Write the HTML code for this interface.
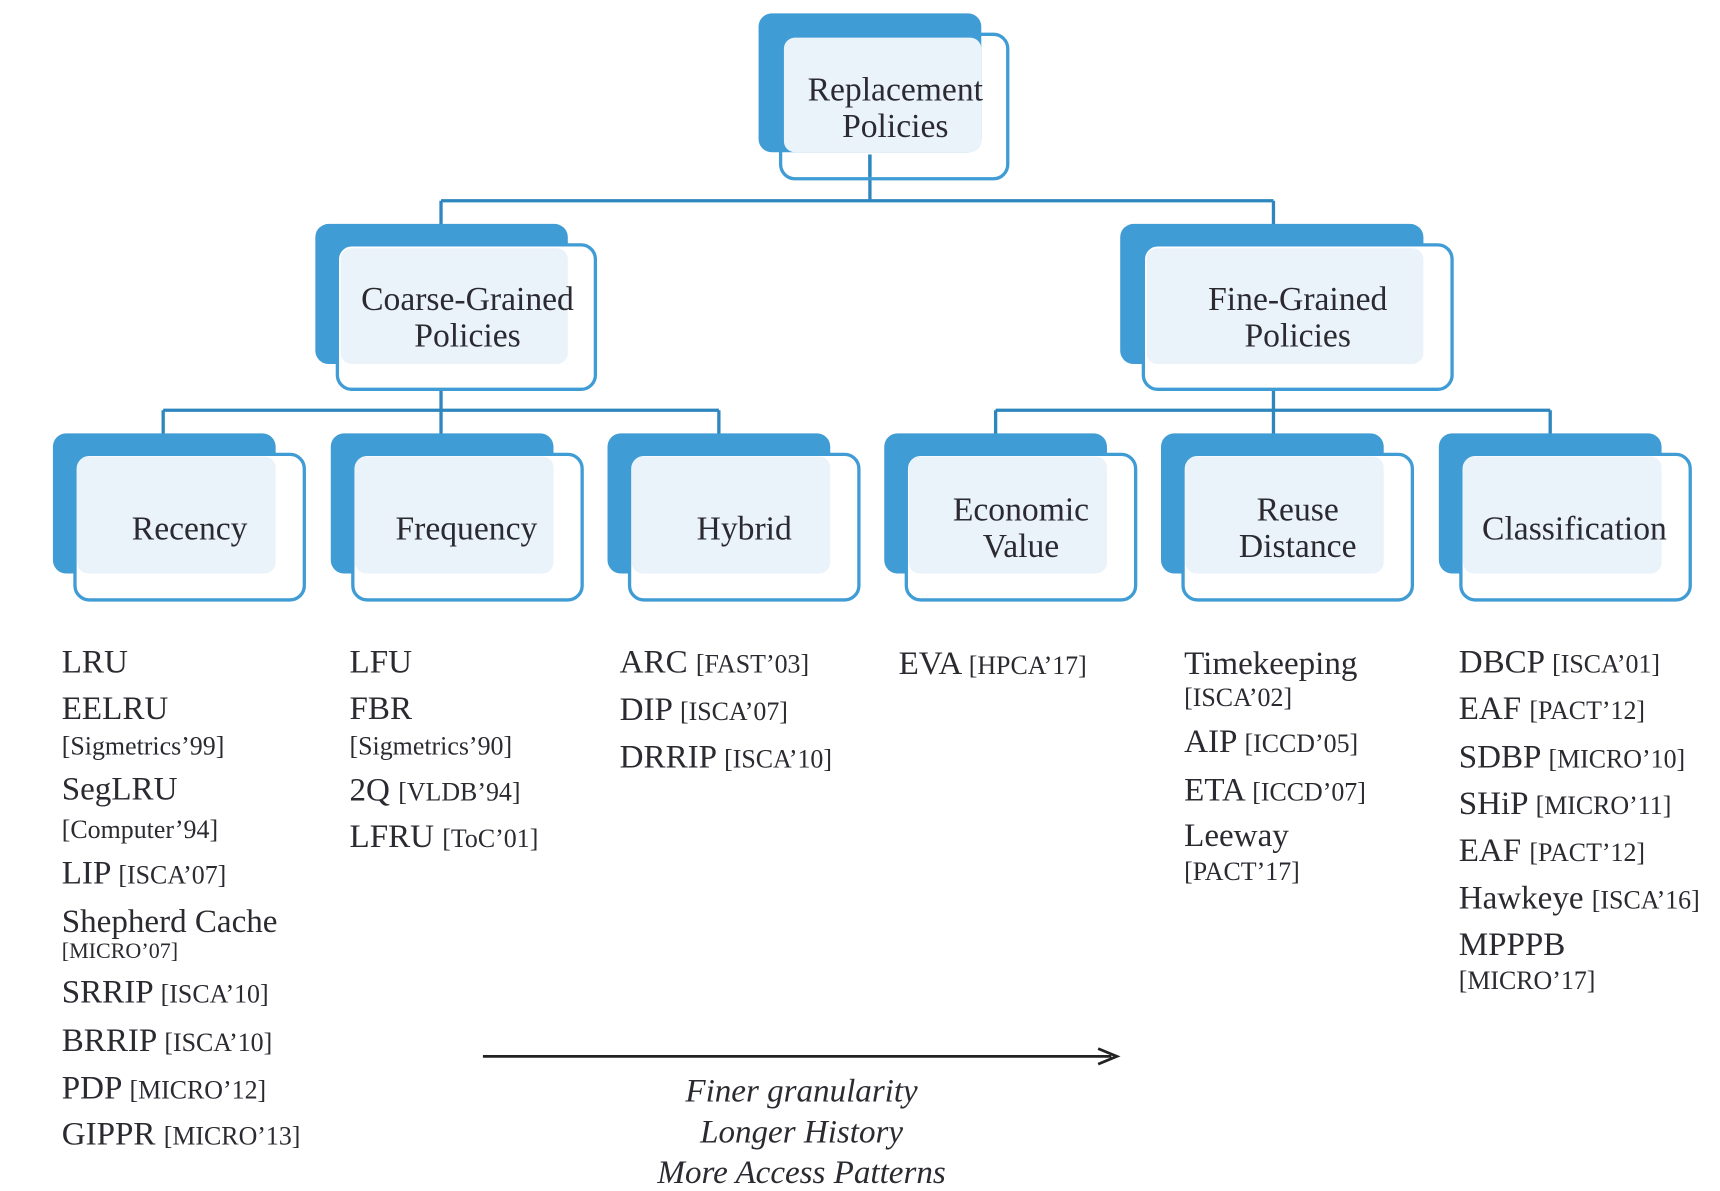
<!DOCTYPE html>
<html><head><meta charset="utf-8"><style>
html,body{margin:0;padding:0;background:#fff;width:1720px;height:1191px;overflow:hidden}
svg text{font-family:"Liberation Serif","Times New Roman",serif;fill:#2a2a30}
.n{font-size:30px}.s{font-size:23.5px}.xs{font-size:20px}
.b{font-size:30.5px}
</style></head><body>
<svg width="1720" height="1191" viewBox="0 0 1560 1080" xmlns="http://www.w3.org/2000/svg">
<defs>
<g id="leaf">
<rect x="0" y="0" width="202" height="127" rx="12" fill="#409cd4"/>
<rect x="20" y="19" width="208" height="132" rx="13" fill="#fff" stroke="#409cd4" stroke-width="3"/>
<rect x="22" y="21" width="180" height="106" rx="10" fill="#eaf2fa"/>
</g>
</defs>
<g stroke="#2e86bf" stroke-width="3" fill="none">
<path d="M789 140V182M400 182H1155M400 182V205M1155 182V205"/>
<path d="M400 332V372M148 372H652M148 372V395M400 372V395M652 372V395"/>
<path d="M1155 332V372M903 372H1406M903 372V395M1155 372V395M1406 372V395"/>
</g>
<rect x="688" y="12" width="202" height="126" rx="12" fill="#409cd4"/>
<rect x="708" y="31" width="206" height="131" rx="13" fill="none" stroke="#409cd4" stroke-width="3"/>
<rect x="711" y="34" width="179" height="104" rx="10" fill="#eaf2fa"/>
<line x1="789" y1="140" x2="789" y2="160" stroke="#2e86bf" stroke-width="3"/>
<text class="b" x="812" y="91" text-anchor="middle">Replacement</text>
<text class="b" x="812" y="124" text-anchor="middle">Policies</text>
<rect x="286" y="203" width="229" height="127" rx="12" fill="#409cd4"/>
<rect x="306" y="222" width="234" height="131" rx="13" fill="#fff" stroke="#409cd4" stroke-width="3"/>
<rect x="309" y="225" width="206" height="105" rx="10" fill="#eaf2fa"/>
<text class="b" x="424" y="281" text-anchor="middle">Coarse-Grained</text>
<text class="b" x="424" y="314" text-anchor="middle">Policies</text>
<rect x="1016" y="203" width="275" height="127" rx="12" fill="#409cd4"/>
<rect x="1037" y="222" width="280" height="131" rx="13" fill="#fff" stroke="#409cd4" stroke-width="3"/>
<rect x="1040" y="225" width="251" height="105" rx="10" fill="#eaf2fa"/>
<text class="b" x="1177" y="281" text-anchor="middle">Fine-Grained</text>
<text class="b" x="1177" y="314" text-anchor="middle">Policies</text>
<use href="#leaf" x="48" y="393"/>
<use href="#leaf" x="300" y="393"/>
<use href="#leaf" x="551" y="393"/>
<use href="#leaf" x="802" y="393"/>
<use href="#leaf" x="1053" y="393"/>
<use href="#leaf" x="1305" y="393"/>
<text class="b" x="172" y="489" text-anchor="middle">Recency</text>
<text class="b" x="423" y="489" text-anchor="middle">Frequency</text>
<text class="b" x="675" y="489" text-anchor="middle">Hybrid</text>
<text class="b" x="926" y="472" text-anchor="middle">Economic</text>
<text class="b" x="926" y="505" text-anchor="middle">Value</text>
<text class="b" x="1177" y="472" text-anchor="middle">Reuse</text>
<text class="b" x="1177" y="505" text-anchor="middle">Distance</text>
<text class="b" x="1428" y="489" text-anchor="middle">Classification</text>
<g>
<text class="n" x="56" y="610">LRU</text>
<text class="n" x="56" y="652">EELRU</text>
<text class="s" x="56" y="684">[Sigmetrics’99]</text>
<text class="n" x="56" y="725">SegLRU</text>
<text class="s" x="56" y="760">[Computer’94]</text>
<text class="n" x="56" y="801">LIP <tspan class="s">[ISCA’07]</tspan></text>
<text class="n" x="56" y="845">Shepherd Cache</text>
<text class="xs" x="56" y="869">[MICRO’07]</text>
<text class="n" x="56" y="909">SRRIP <tspan class="s">[ISCA’10]</tspan></text>
<text class="n" x="56" y="953">BRRIP <tspan class="s">[ISCA’10]</tspan></text>
<text class="n" x="56" y="996">PDP <tspan class="s">[MICRO’12]</tspan></text>
<text class="n" x="56" y="1038">GIPPR <tspan class="s">[MICRO’13]</tspan></text>
<text class="n" x="317" y="610">LFU</text>
<text class="n" x="317" y="652">FBR</text>
<text class="s" x="317" y="684">[Sigmetrics’90]</text>
<text class="n" x="317" y="726">2Q <tspan class="s">[VLDB’94]</tspan></text>
<text class="n" x="317" y="768">LFRU <tspan class="s">[ToC’01]</tspan></text>
<text class="n" x="562" y="610">ARC <tspan class="s">[FAST’03]</tspan></text>
<text class="n" x="562" y="653">DIP <tspan class="s">[ISCA’07]</tspan></text>
<text class="n" x="562" y="696">DRRIP <tspan class="s">[ISCA’10]</tspan></text>
<text class="n" x="815" y="611">EVA <tspan class="s">[HPCA’17]</tspan></text>
<text class="n" x="1074" y="611">Timekeeping</text>
<text class="s" x="1074" y="640">[ISCA’02]</text>
<text class="n" x="1074" y="682">AIP <tspan class="s">[ICCD’05]</tspan></text>
<text class="n" x="1074" y="726">ETA <tspan class="s">[ICCD’07]</tspan></text>
<text class="n" x="1074" y="767">Leeway</text>
<text class="s" x="1074" y="798">[PACT’17]</text>
<text class="n" x="1323" y="610">DBCP <tspan class="s">[ISCA’01]</tspan></text>
<text class="n" x="1323" y="652">EAF <tspan class="s">[PACT’12]</tspan></text>
<text class="n" x="1323" y="696">SDBP <tspan class="s">[MICRO’10]</tspan></text>
<text class="n" x="1323" y="738">SHiP <tspan class="s">[MICRO’11]</tspan></text>
<text class="n" x="1323" y="781">EAF <tspan class="s">[PACT’12]</tspan></text>
<text class="n" x="1323" y="824">Hawkeye <tspan class="s">[ISCA’16]</tspan></text>
<text class="n" x="1323" y="866">MPPPB</text>
<text class="s" x="1323" y="897">[MICRO’17]</text>
</g>
<line x1="438" y1="958" x2="1008" y2="958" stroke="#222" stroke-width="2.5"/>
<path d="M996 951L1013 958L996 965" fill="none" stroke="#222" stroke-width="2.5"/>
<text class="n" x="727" y="999" text-anchor="middle" font-style="italic">Finer granularity</text>
<text class="n" x="727" y="1036" text-anchor="middle" font-style="italic">Longer History</text>
<text class="n" x="727" y="1073" text-anchor="middle" font-style="italic">More Access Patterns</text>
</svg>
</body></html>
